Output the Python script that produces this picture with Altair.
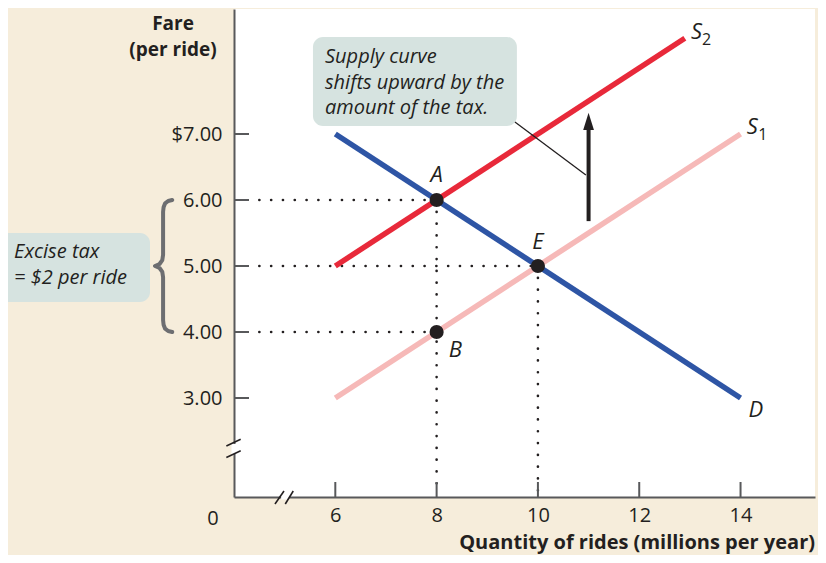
import altair as alt
import pandas as pd

# ---------------- data ----------------
quantity_ticks = [6, 8, 10, 12, 14]
fare_ticks = [3, 4, 5, 6, 7]

demand_q = [6, 14]
demand_p = [7, 3]
supply1_q = [6, 14]
supply1_p = [3, 7]
supply2_q = [6, 12.9]
supply2_p = [5, 8.45]

point_names = ["A", "E", "B"]
point_q = [8, 10, 8]
point_p = [6, 5, 4]

tax_arrow_q = 11
tax_arrow_from = 5.68
tax_arrow_to = 7.12

supply_note = ["Supply curve", "shifts upward by the", "amount of the tax."]
tax_note = ["Excise tax", "= $2 per ride"]
y_title = ["Fare", "(per ride)"]
x_title = "Quantity of rides (millions per year)"

# ---------------- styling ----------------
FONT = "Open Sans"
DARK = "#231f20"
AXIS = "#58595b"
CREAM = "#f6eddb"
BOX = "#d6e3e0"
RED = "#e8293a"
PINK = "#f6b9b8"
BLUE = "#2e55a5"
BRACE = "#6d6e71"

W, H = 581, 488
xs = alt.Scale(domain=[4, 15.47], nice=False, zero=False)
ys = alt.Scale(domain=[1.5, 8.894], nice=False, zero=False)

xa = alt.Axis(values=quantity_ticks, ticks=False, grid=False, title=None,
              domainColor=AXIS, domainWidth=2, labelFont=FONT, labelFontSize=20,
              labelColor=DARK, labelPadding=8)
ya = alt.Axis(values=fare_ticks, ticks=False, grid=False, title=None,
              domainColor=AXIS, domainWidth=2, labelFont=FONT, labelFontSize=20,
              labelColor=DARK, labelPadding=12,
              labelExpr="datum.value == 7 ? '$7.00' : format(datum.value, '.2f')")


def X(f):
    return alt.X(f, type="quantitative", scale=xs, axis=xa)


def Y(f):
    return alt.Y(f, type="quantitative", scale=ys, axis=ya)


# ---------------- curves ----------------
def curve(qs, ps, color):
    df = pd.DataFrame({"q": qs, "p": ps})
    return alt.Chart(df).mark_line(color=color, strokeWidth=5.5, clip=False).encode(x=X("q"), y=Y("p"))


s1 = curve(supply1_q, supply1_p, PINK)
s2 = curve(supply2_q, supply2_p, RED)
dem = curve(demand_q, demand_p, BLUE)

# dotted guides
guide_rows = []
for q, p in zip(point_q, point_p):
    guide_rows.append({"x": 4.5, "x2": q, "y": p, "y2": p})
for q, p in [(8, 6), (10, 5)]:
    guide_rows.append({"x": q, "x2": q, "y": p, "y2": 1.6})
guides = alt.Chart(pd.DataFrame(guide_rows)).mark_rule(
    color=DARK, strokeWidth=2.6, strokeDash=[0.1, 11.7], strokeCap="round"
).encode(x=X("x"), x2="x2", y=Y("y"), y2="y2")

pts_df = pd.DataFrame({"name": point_names, "q": point_q, "p": point_p})
pts = alt.Chart(pts_df).mark_circle(size=200, color=DARK, opacity=1).encode(x=X("q"), y=Y("p"))

lab_df = pd.DataFrame({
    "t": ["A", "E", "B", "D"],
    "x": [8, 10, 8.37, 14.3],
    "y": [6.38, 5.36, 3.73, 2.82],
})
labels = alt.Chart(lab_df).mark_text(font=FONT, fontStyle="italic", fontSize=22, color=DARK,
                                     baseline="middle").encode(x=X("x"), y=Y("y"), text="t")

s_df = pd.DataFrame({"t": ["S", "S"], "x": [13.13, 14.23], "y": [8.55, 7.11]})
s_lab = alt.Chart(s_df).mark_text(font=FONT, fontStyle="italic", fontSize=22, color=DARK,
                                  baseline="middle").encode(x=X("x"), y=Y("y"), text="t")
sub_df = pd.DataFrame({"t": ["2", "1"], "x": [13.33, 14.44], "y": [8.42, 6.98]})
sub_lab = alt.Chart(sub_df).mark_text(font=FONT, fontSize=16, color=DARK,
                                      baseline="middle").encode(x=X("x"), y=Y("y"), text="t")

# arrow showing the shift
arrow_df = pd.DataFrame({"x": [tax_arrow_q], "y": [tax_arrow_from], "y2": [tax_arrow_to]})
shaft = alt.Chart(arrow_df).mark_rule(color=DARK, strokeWidth=4).encode(x=X("x"), y=Y("y"), y2="y2")
head_df = pd.DataFrame({"x": [tax_arrow_q], "y": [7.19]})
head = alt.Chart(head_df).mark_point(shape="M0,-1L0.62,1L-0.62,1Z", size=300, filled=True,
                                     color=DARK, opacity=1).encode(x=X("x"), y=Y("y"))

leader_df = pd.DataFrame({"x": [9.546], "x2": [10.947], "y": [7.182], "y2": [6.379]})
leader = alt.Chart(leader_df).mark_rule(color=DARK, strokeWidth=1.3).encode(
    x=X("x"), x2="x2", y=Y("y"), y2="y2")

# annotation boxes
box_df = pd.DataFrame({"x": [5.559, -0.7], "x2": [9.585, 2.342], "y": [8.47, 5.5], "y2": [7.121, 4.455]})
boxes = alt.Chart(box_df).mark_rect(color=BOX, cornerRadius=10).encode(
    x=X("x"), x2="x2", y=Y("y"), y2="y2")

note_df = pd.DataFrame({
    "t": supply_note + tax_note,
    "x": [5.796] * 3 + [-0.342] * 2,
    "y": [8.167, 7.773, 7.394, 5.212, 4.818],
})
notes = alt.Chart(note_df).mark_text(font=FONT, fontStyle="italic", fontSize=20, color=DARK,
                                     align="left", baseline="middle").encode(
    x=X("x"), y=Y("y"), text="t")

# brace for the tax wedge
brace_x = [2.78, 2.70, 2.64, 2.61, 2.60, 2.60, 2.585, 2.53, 2.44, 2.53, 2.585, 2.60, 2.60, 2.61, 2.64, 2.70, 2.78]
brace_y = [6.00, 5.985, 5.95, 5.89, 5.82, 5.17, 5.09, 5.03, 5.00, 4.97, 4.91, 4.83, 4.18, 4.11, 4.05, 4.015, 4.00]
brace_df = pd.DataFrame({"x": brace_x, "y": brace_y, "o": list(range(len(brace_x)))})
brace = alt.Chart(brace_df).mark_line(color=BRACE, strokeWidth=4, strokeCap="round",
                                      strokeJoin="round", clip=False).encode(
    x=X("x"), y=Y("y"), order="o:Q")

# inward ticks
xt = alt.Chart(pd.DataFrame({"q": quantity_ticks})).mark_rule(color=AXIS, strokeWidth=2).encode(
    x=X("q"), y=alt.value(H), y2=alt.value(H - 15))
yt = alt.Chart(pd.DataFrame({"p": fare_ticks})).mark_rule(color=AXIS, strokeWidth=2).encode(
    y=Y("p"), x=alt.value(0), x2=alt.value(15))

# axis breaks
gap_df = pd.DataFrame({"x": [4.93, 4.0], "x2": [5.09, 4.0], "y": [1.5, 2.303], "y2": [1.5, 2.152]})
gaps = alt.Chart(gap_df).mark_rule(color="white", strokeWidth=5).encode(
    x=X("x"), x2="x2", y=Y("y"), y2="y2")
slash_df = pd.DataFrame({
    "x": [4.809, 5.012, 3.849, 3.849],
    "x2": [4.987, 5.170, 4.132, 4.132],
    "y": [1.394, 1.394, 2.273, 2.100],
    "y2": [1.591, 1.591, 2.374, 2.201],
})
slashes = alt.Chart(slash_df).mark_rule(color=DARK, strokeWidth=1.6).encode(
    x=X("x"), x2="x2", y=Y("y"), y2="y2")

# axis titles and the broken-axis zero
ytitle_df = pd.DataFrame({"t": y_title, "x": [2.796, 2.796], "y": [8.67, 8.27]})
ytitle = alt.Chart(ytitle_df).mark_text(font=FONT, fontWeight="bold", fontSize=19, color=DARK,
                                        baseline="middle", align="center").encode(
    x=X("x"), y=Y("y"), text="t")
xtitle_df = pd.DataFrame({"t": [x_title], "x": [15.47], "y": [0.80]})
xtitle = alt.Chart(xtitle_df).mark_text(font=FONT, fontWeight="bold", fontSize=20, color=DARK,
                                        baseline="middle", align="right").encode(
    x=X("x"), y=Y("y"), text="t")
zero_df = pd.DataFrame({"t": ["0"], "x": [3.585], "y": [1.167]})
zero = alt.Chart(zero_df).mark_text(font=FONT, fontSize=20, color=DARK, baseline="middle").encode(
    x=X("x"), y=Y("y"), text="t")

chart = alt.layer(
    boxes, brace, guides, gaps, slashes, xt, yt, s1, s2, dem, leader, shaft, head, pts,
    labels, s_lab, sub_lab, notes, ytitle, xtitle, zero
).properties(
    width=W, height=H,
    background=CREAM,
    padding={"left": 226, "top": 1, "right": 3, "bottom": 58},
    autosize=alt.AutoSizeParams(type="none"),
).configure_view(fill="white", stroke=None)

chart.save("out.html", embed_options={"renderer": "svg", "actions": False})
